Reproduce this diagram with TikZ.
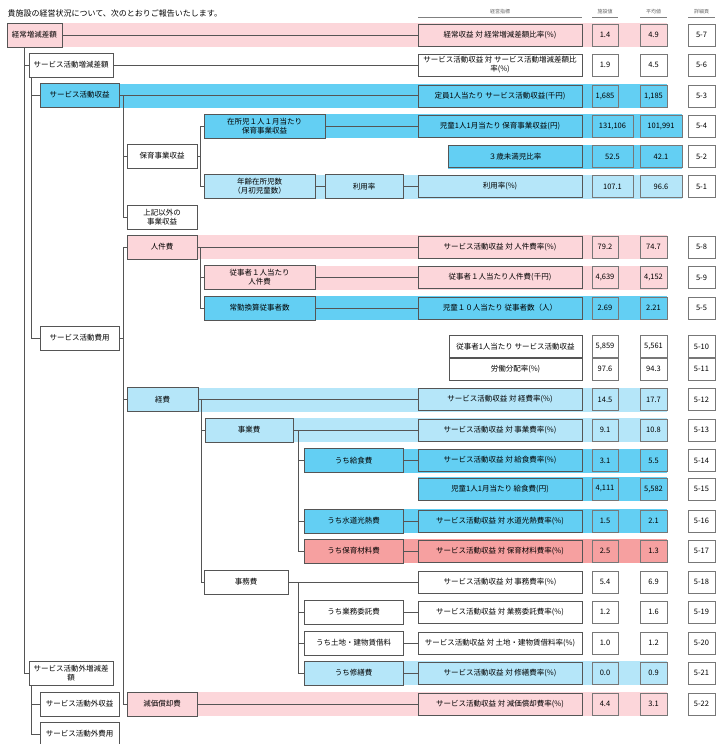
\documentclass[tikz,border=0pt]{standalone}
\usepackage{fontspec}
\setmainfont{Noto Sans CJK JP}
\usepackage{xcolor}
\usepackage{tikz}
\usetikzlibrary{positioning,calc}
\definecolor{pinkc}{RGB}{252,214,218}
\definecolor{salm}{RGB}{246,160,160}
\definecolor{bluem}{RGB}{99,207,243}
\definecolor{bluel}{RGB}{181,230,249}
\definecolor{linec}{RGB}{85,85,85}
\newcommand{\jpsmall}{\fontsize{7.5}{9}\selectfont}
\newcommand{\jptiny}{\fontsize{5}{6}\selectfont}

\begin{document}
\begin{tikzpicture}[x=1pt,y=-1pt]
  \tikzset{
    lbox/.style={rectangle,draw=linec,line width=0.8pt,minimum height=24,inner sep=1pt,
                 align=center,font=\jpsmall},
    ind/.style={rectangle,draw=linec,line width=0.8pt,minimum height=22,inner sep=1pt,
                align=center,font=\jpsmall},
    val/.style={rectangle,draw=linec!80,line width=0.8pt,minimum height=22,inner sep=1pt,
                font=\jpsmall},
    head/.style={font=\jptiny,text=gray!80!black},
    conn/.style={draw=linec,line width=0.7pt}}
  \useasboundingbox (0,0) rectangle (727,744);
  \fill[white] (0,0) rectangle (727,744);
  \node[anchor=west,font=\fontsize{8}{9}\selectfont] (title) at (4,13)
    {貴施設の経営状況について、次のとおりご報告いたします。};
  \foreach \nm/\x/\xa/\xb/\lb in {hkei/500/418/582/経営指標,hsis/605/592/618/施設値,
     hhei/653.5/640/667/平均値,hpag/701.5/688/715/詳細頁}{
    \node[head] (\nm) at (\x,12) {\lb};
    \draw[gray,line width=0.6pt] (\xa,17) -- (\xb,17);}
  \foreach \xl/\y/\c/\e in {7/35/pinkc/0,40/96/bluem/0,204/126/bluem/15,448/156.5/bluem/15,
     204/186.5/bluel/15,127/247/pinkc/0,204/277.5/pinkc/0,204/308/bluem/0,127/399.5/bluel/0,
     205/430/bluel/0,304/460.5/bluem/0,418/489/bluem/0,304/521/bluem/0,304/551/salm/0,
     304/673/bluel/0,127/704/pinkc/0}
    \fill[\c] (\xl,\y-12) rectangle (667+\e,\y+12);
  \foreach \r/\y/\c/\xl/\txt/\va/\vb/\pg/\e in {
     1/35/pinkc/418/{経常収益 対 経常増減差額比率(\%)}/1.4/4.9/5-7/0,
     2/65/white/418/{サービス活動収益 対 サービス活動増減差額比\\率(\%)}/1.9/4.5/5-6/0,
     3/96/bluem/418/{定員1人当たり サービス活動収益(千円)}/{1,685}/{1,185}/5-3/0,
     4/126/bluem/418/{児童1人1月当たり 保育事業収益(円)}/{131,106}/{101,991}/5-4/15,
     5/156.5/bluem/448/{３歳未満児比率}/52.5/42.1/5-2/15,
     6/186.5/bluel/418/{利用率(\%)}/107.1/96.6/5-1/15,
     7/247/pinkc/418/{サービス活動収益 対 人件費率(\%)}/79.2/74.7/5-8/0,
     8/277.5/pinkc/418/{従事者１人当たり人件費(千円)}/{4,639}/{4,152}/5-9/0,
     9/308/bluem/418/{児童１０人当たり 従事者数（人）}/2.69/2.21/5-5/0,
     10/346.5/white/449/{従事者1人当たり サービス活動収益}/{5,859}/{5,561}/5-10/0,
     11/369/white/449/{労働分配率(\%)}/97.6/94.3/5-11/0,
     12/399.5/bluel/418/{サービス活動収益 対 経費率(\%)}/14.5/17.7/5-12/0,
     13/430/bluel/418/{サービス活動収益 対 事業費率(\%)}/9.1/10.8/5-13/0,
     14/460.5/bluem/418/{サービス活動収益 対 給食費率(\%)}/3.1/5.5/5-14/0,
     15/489/bluem/418/{児童1人1月当たり 給食費(円)}/{4,111}/{5,582}/5-15/0,
     16/521/bluem/418/{サービス活動収益 対 水道光熱費率(\%)}/1.5/2.1/5-16/0,
     17/551/salm/418/{サービス活動収益 対 保育材料費率(\%)}/2.5/1.3/5-17/0,
     18/582/white/418/{サービス活動収益 対 事務費率(\%)}/5.4/6.9/5-18/0,
     19/612/white/418/{サービス活動収益 対 業務委託費率(\%)}/1.2/1.6/5-19/0,
     20/643/white/418/{サービス活動収益 対 土地・建物賃借料率(\%)}/1.0/1.2/5-20/0,
     21/673/bluel/418/{サービス活動収益 対 修繕費率(\%)}/0.0/0.9/5-21/0,
     22/704/pinkc/418/{サービス活動収益 対 減価償却費率(\%)}/4.4/3.1/5-22/0}{
    \node[ind,fill=\c,minimum width={(582-\xl)*1pt}] (ind\r) at ({(\xl+582)/2},\y) {\txt};
    \node[val,fill=\c,minimum width={(26+\e)*1pt}] (va\r) at ({592+(26+\e)/2},\y) {\va};
    \node[val,fill=\c,minimum width={(27+\e)*1pt}] (vb\r) at ({640+(27+\e)/2},\y) {\vb};
    \node[val,fill=white,minimum width=27] (pg\r) at (701.5,\y) {\pg};}
  \node[lbox,fill=pinkc,minimum width=55] (keijo) at (34.5,35) {経常増減差額};
  \node[lbox,fill=white,minimum width=84] (svzogen) at (71,65) {サービス活動増減差額};
  \node[lbox,fill=bluem,minimum width=79] (svshueki) at (79.5,95) {サービス活動収益};
  \node[lbox,fill=white,minimum width=70] (hoiku) at (162,156) {保育事業収益};
  \node[lbox,fill=white,minimum width=70] (jokigai) at (162,217.5) {上記以外の\\事業収益};
  \node[lbox,fill=bluem,minimum width=121] (zaisho) at (264.5,126) {在所児１人１月当たり\\保育事業収益};
  \node[lbox,fill=bluel,minimum width=111] (nenrei) at (259.5,186.5) {年齢在所児数\\（月初児童数）};
  \node[lbox,fill=bluel,minimum width=78] (riyo) at (364,186.5) {利用率};
  \node[lbox,fill=pinkc,minimum width=70] (jinken) at (162,247) {人件費};
  \node[lbox,fill=pinkc,minimum width=111] (jujisha) at (259.5,277.5) {従事者１人当たり\\人件費};
  \node[lbox,fill=bluem,minimum width=111] (jokin) at (259.5,308) {常勤換算従事者数};
  \node[lbox,fill=white,minimum width=79] (svhiyo) at (79.5,338) {サービス活動費用};
  \node[lbox,fill=bluel,minimum width=71] (keihi) at (162.5,399.5) {経費};
  \node[lbox,fill=bluel,minimum width=88] (jigyo) at (249,430) {事業費};
  \node[lbox,fill=bluem,minimum width=99] (kyushoku) at (353.5,460.5) {うち給食費};
  \node[lbox,fill=bluem,minimum width=99] (suido) at (353.5,521) {うち水道光熱費};
  \node[lbox,fill=salm,minimum width=99] (hoikuzai) at (353.5,551) {うち保育材料費};
  \node[lbox,fill=white,minimum width=84] (jimu) at (246,582) {事務費};
  \node[lbox,fill=white,minimum width=99] (gyomu) at (353.5,612) {うち業務委託費};
  \node[lbox,fill=white,minimum width=99] (tochi) at (353.5,643) {うち土地・建物賃借料};
  \node[lbox,fill=bluel,minimum width=99] (shuzen) at (353.5,673) {うち修繕費};
  \node[lbox,fill=white,minimum width=84] (svgai) at (71,673.5) {サービス活動外増減差\\額};
  \node[lbox,fill=white,minimum width=79] (gaishueki) at (79.5,704) {サービス活動外収益};
  \node[lbox,fill=pinkc,minimum width=70] (genka) at (162,704) {減価償却費};
  \node[lbox,fill=white,minimum width=79] (gaihiyo) at (79.5,734) {サービス活動外費用};
  \foreach \a/\b in {keijo/ind1,svzogen/ind2,svshueki/ind3,zaisho/ind4,nenrei/riyo,riyo/ind6,
     jinken/ind7,jujisha/ind8,jokin/ind9,keihi/ind12,jigyo/ind13,kyushoku/ind14,suido/ind16,
     hoikuzai/ind17,jimu/ind18,gyomu/ind19,tochi/ind20,shuzen/ind21,genka/ind22}
    \draw[conn] (\a.east) -- (\a.east -| \b.west);
  \foreach \s/\o/\t in {keijo/18/svzogen,keijo/18/svgai,svzogen/3/svshueki,svzogen/3/svhiyo,
     svgai/3/gaishueki,svgai/3/gaihiyo}
    \draw[conn] (\s.south west) ++(\o,0) |- (\t.west);
  \foreach \s/\o/\t in {svshueki/4/hoiku,svshueki/4/jokigai,hoiku/3/zaisho,hoiku/3/nenrei,
     svhiyo/4/jinken,svhiyo/4/keihi,svhiyo/4/genka,jinken/3/jujisha,jinken/3/jokin,
     keihi/3/jigyo,keihi/3/jimu,jigyo/5/kyushoku,jigyo/5/suido,jigyo/5/hoikuzai,
     jimu/10/gyomu,jimu/10/tochi,jimu/10/shuzen}
    \draw[conn] (\s.east) -- ++(\o,0) |- (\t.west);
\end{tikzpicture}
\end{document}
